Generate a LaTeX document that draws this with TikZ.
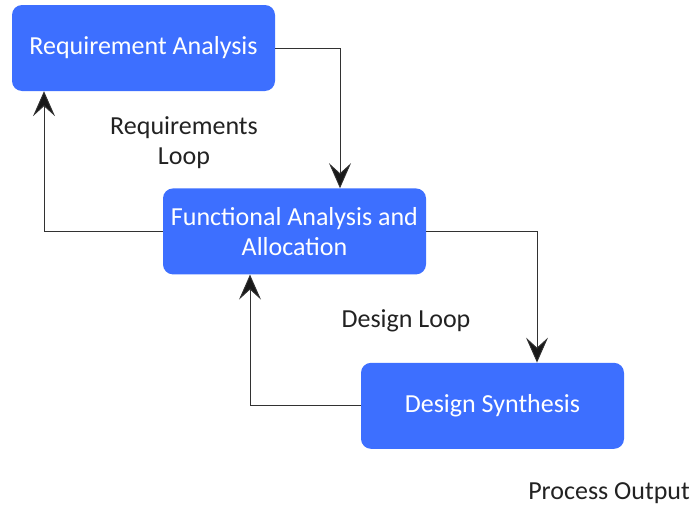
\documentclass[tikz,border=0pt]{standalone}
\usepackage{fontspec}
\setmainfont{Carlito}
\usepackage{xcolor}
\usetikzlibrary{arrows.meta, positioning, calc}
\definecolor{boxblue}{RGB}{61,111,255}
\definecolor{linegray}{RGB}{50,50,50}
\definecolor{txtgray}{RGB}{34,34,34}

\begin{document}
\begin{tikzpicture}[
  x=1pt, y=1pt,
  box/.style={fill=boxblue, rounded corners=10pt, minimum width=263pt, minimum height=86pt, inner sep=0pt,
    text=white, align=center, font=\fontsize{26}{30}\selectfont},
  lbl/.style={text=txtgray, align=center, font=\fontsize{26}{30}\selectfont, inner sep=0pt},
  loop/.style={draw=linegray, line width=0.9pt, -{Stealth[length=25pt, width=22pt, inset=10pt, fill=black!90]}},
]
\useasboundingbox (0,0) rectangle (693,-506);
\node[box] (ra) at (143.5,-48) {Requirement Analysis};
\node[box, below=97pt of ra, xshift=151pt] (faa) {Functional Analysis and\\Allocation};
\node[box, below=88pt of faa, xshift=198pt] (ds) {Design Synthesis};
\node[lbl] (reqloop) at (184,-143) {Requirements\\Loop};
\node[lbl] (desloop) at (406,-321) {Design Loop};
\node[lbl, anchor=east] (out) at (690,-493) {Process Output};
\draw[loop] (ra.east) -| ([xshift=45.5pt]faa.north);
\draw[loop] (faa.west) -| ([xshift=-99.5pt]ra.south);
\draw[loop] (faa.east) -| ([xshift=44.5pt]ds.north);
\draw[loop] (ds.west) -| ([xshift=-44.5pt]faa.south);
\end{tikzpicture}
\end{document}
